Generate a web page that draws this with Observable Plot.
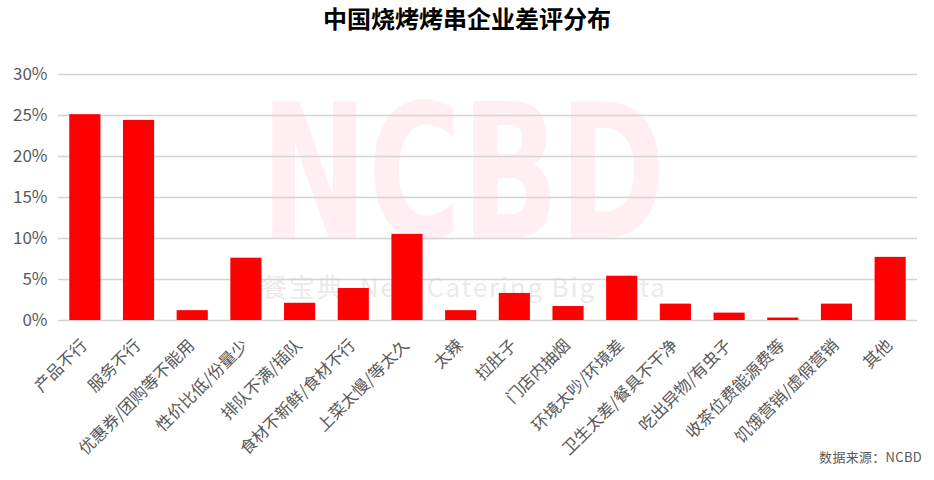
<!DOCTYPE html>
<html>
<head>
<meta charset="utf-8">
<script src="https://cdn.jsdelivr.net/npm/d3@7"></script>
<script src="https://cdn.jsdelivr.net/npm/@observablehq/plot@0.6"></script>
<style>
  html, body { margin: 0; padding: 0; background: #fff; }
  body { width: 934px; height: 480px; position: relative; overflow: hidden;
         font-family: "Noto Sans CJK SC", "Noto Sans", sans-serif; }
  #title { height: 50px; box-sizing: border-box; padding-top: 4px; text-align: center;
           font-size: 24px; line-height: 28px; font-weight: bold; color: #000; }
  #caption { position: absolute; right: 12px; top: 447px; font-size: 13px; color: #595959;
             letter-spacing: 0.3px; }
  svg { display: block; }
</style>
</head>
<body>
<div id="title">中国烧烤烤串企业差评分布</div>
<div id="chart"></div>
<div id="caption">数据来源：NCBD</div>
<script>
// Complaint categories (bad reviews of BBQ / skewer restaurants)
const categories = [
  "产品不行", "服务不行", "优惠券/团购等不能用", "性价比低/份量少",
  "排队不满/插队", "食材不新鲜/食材不行", "上菜太慢/等太久", "太辣",
  "拉肚子", "门店内抽烟", "环境太吵/环境差", "卫生太差/餐具不干净",
  "吃出异物/有虫子", "收茶位费能源费等", "饥饿营销/虚假营销", "其他"
];
// Share of bad reviews per category
const shares = [
  0.251, 0.244, 0.012, 0.076,
  0.021, 0.039, 0.105, 0.012,
  0.033, 0.017, 0.054, 0.020,
  0.009, 0.003, 0.020, 0.077
];
const yTicks = [0, 0.05, 0.10, 0.15, 0.20, 0.25, 0.30];

const data = categories.map((c, i) => ({ category: c, share: shares[i] }));

const chart = Plot.plot({
  width: 934,
  height: 430,
  marginTop: 24,
  marginBottom: 160,
  marginLeft: 58,
  marginRight: 17,
  style: { fontFamily: "'Noto Sans CJK SC', 'Noto Sans', sans-serif", background: "#fff", overflow: "visible" },
  x: { domain: categories, paddingInner: 0.42, paddingOuter: 0.21, round: false, label: null },
  y: { domain: [0, 0.30], label: null },
  marks: [
    // faint brand watermark behind the chart
    Plot.text(["NCBD"], {
      frameAnchor: "middle", dx: -25, dy: -20,
      fontSize: 188, fontWeight: "bold", fontFamily: "DejaVu Sans",
      fill: "#ff1f4f", fillOpacity: 0.07,
      className: "wm-big"
    }),
    Plot.text(["餐宝典  New Catering Big Data"], {
      frameAnchor: "middle", dx: -25, dy: 91,
      fontSize: 26, fill: "#dcdcdc", fillOpacity: 0.6,
      className: "wm-small"
    }),
    Plot.gridY(yTicks, { stroke: "#d4d4d4", strokeOpacity: 1, strokeWidth: 1.3 }),
    Plot.barY(data, { x: "category", y: "share", fill: "#ff0000" }),
    Plot.axisY(yTicks, {
      tickSize: 0, tickPadding: 11, tickFormat: d3.format(".0%"),
      fontSize: 17, fill: "#595959", label: null
    }),
    Plot.axisX({
      tickSize: 0, tickPadding: 22, dx: -1, tickRotate: -45,
      fontSize: 16.5, fill: "#595959", label: null
    })
  ]
});

// stretch the watermark texts to their brand widths
d3.select(chart).select(".wm-big text").attr("textLength", 405).attr("lengthAdjust", "spacingAndGlyphs");
d3.select(chart).select(".wm-small text").attr("textLength", 404).attr("lengthAdjust", "spacing");

document.getElementById("chart").appendChild(chart);
</script>
</body>
</html>
